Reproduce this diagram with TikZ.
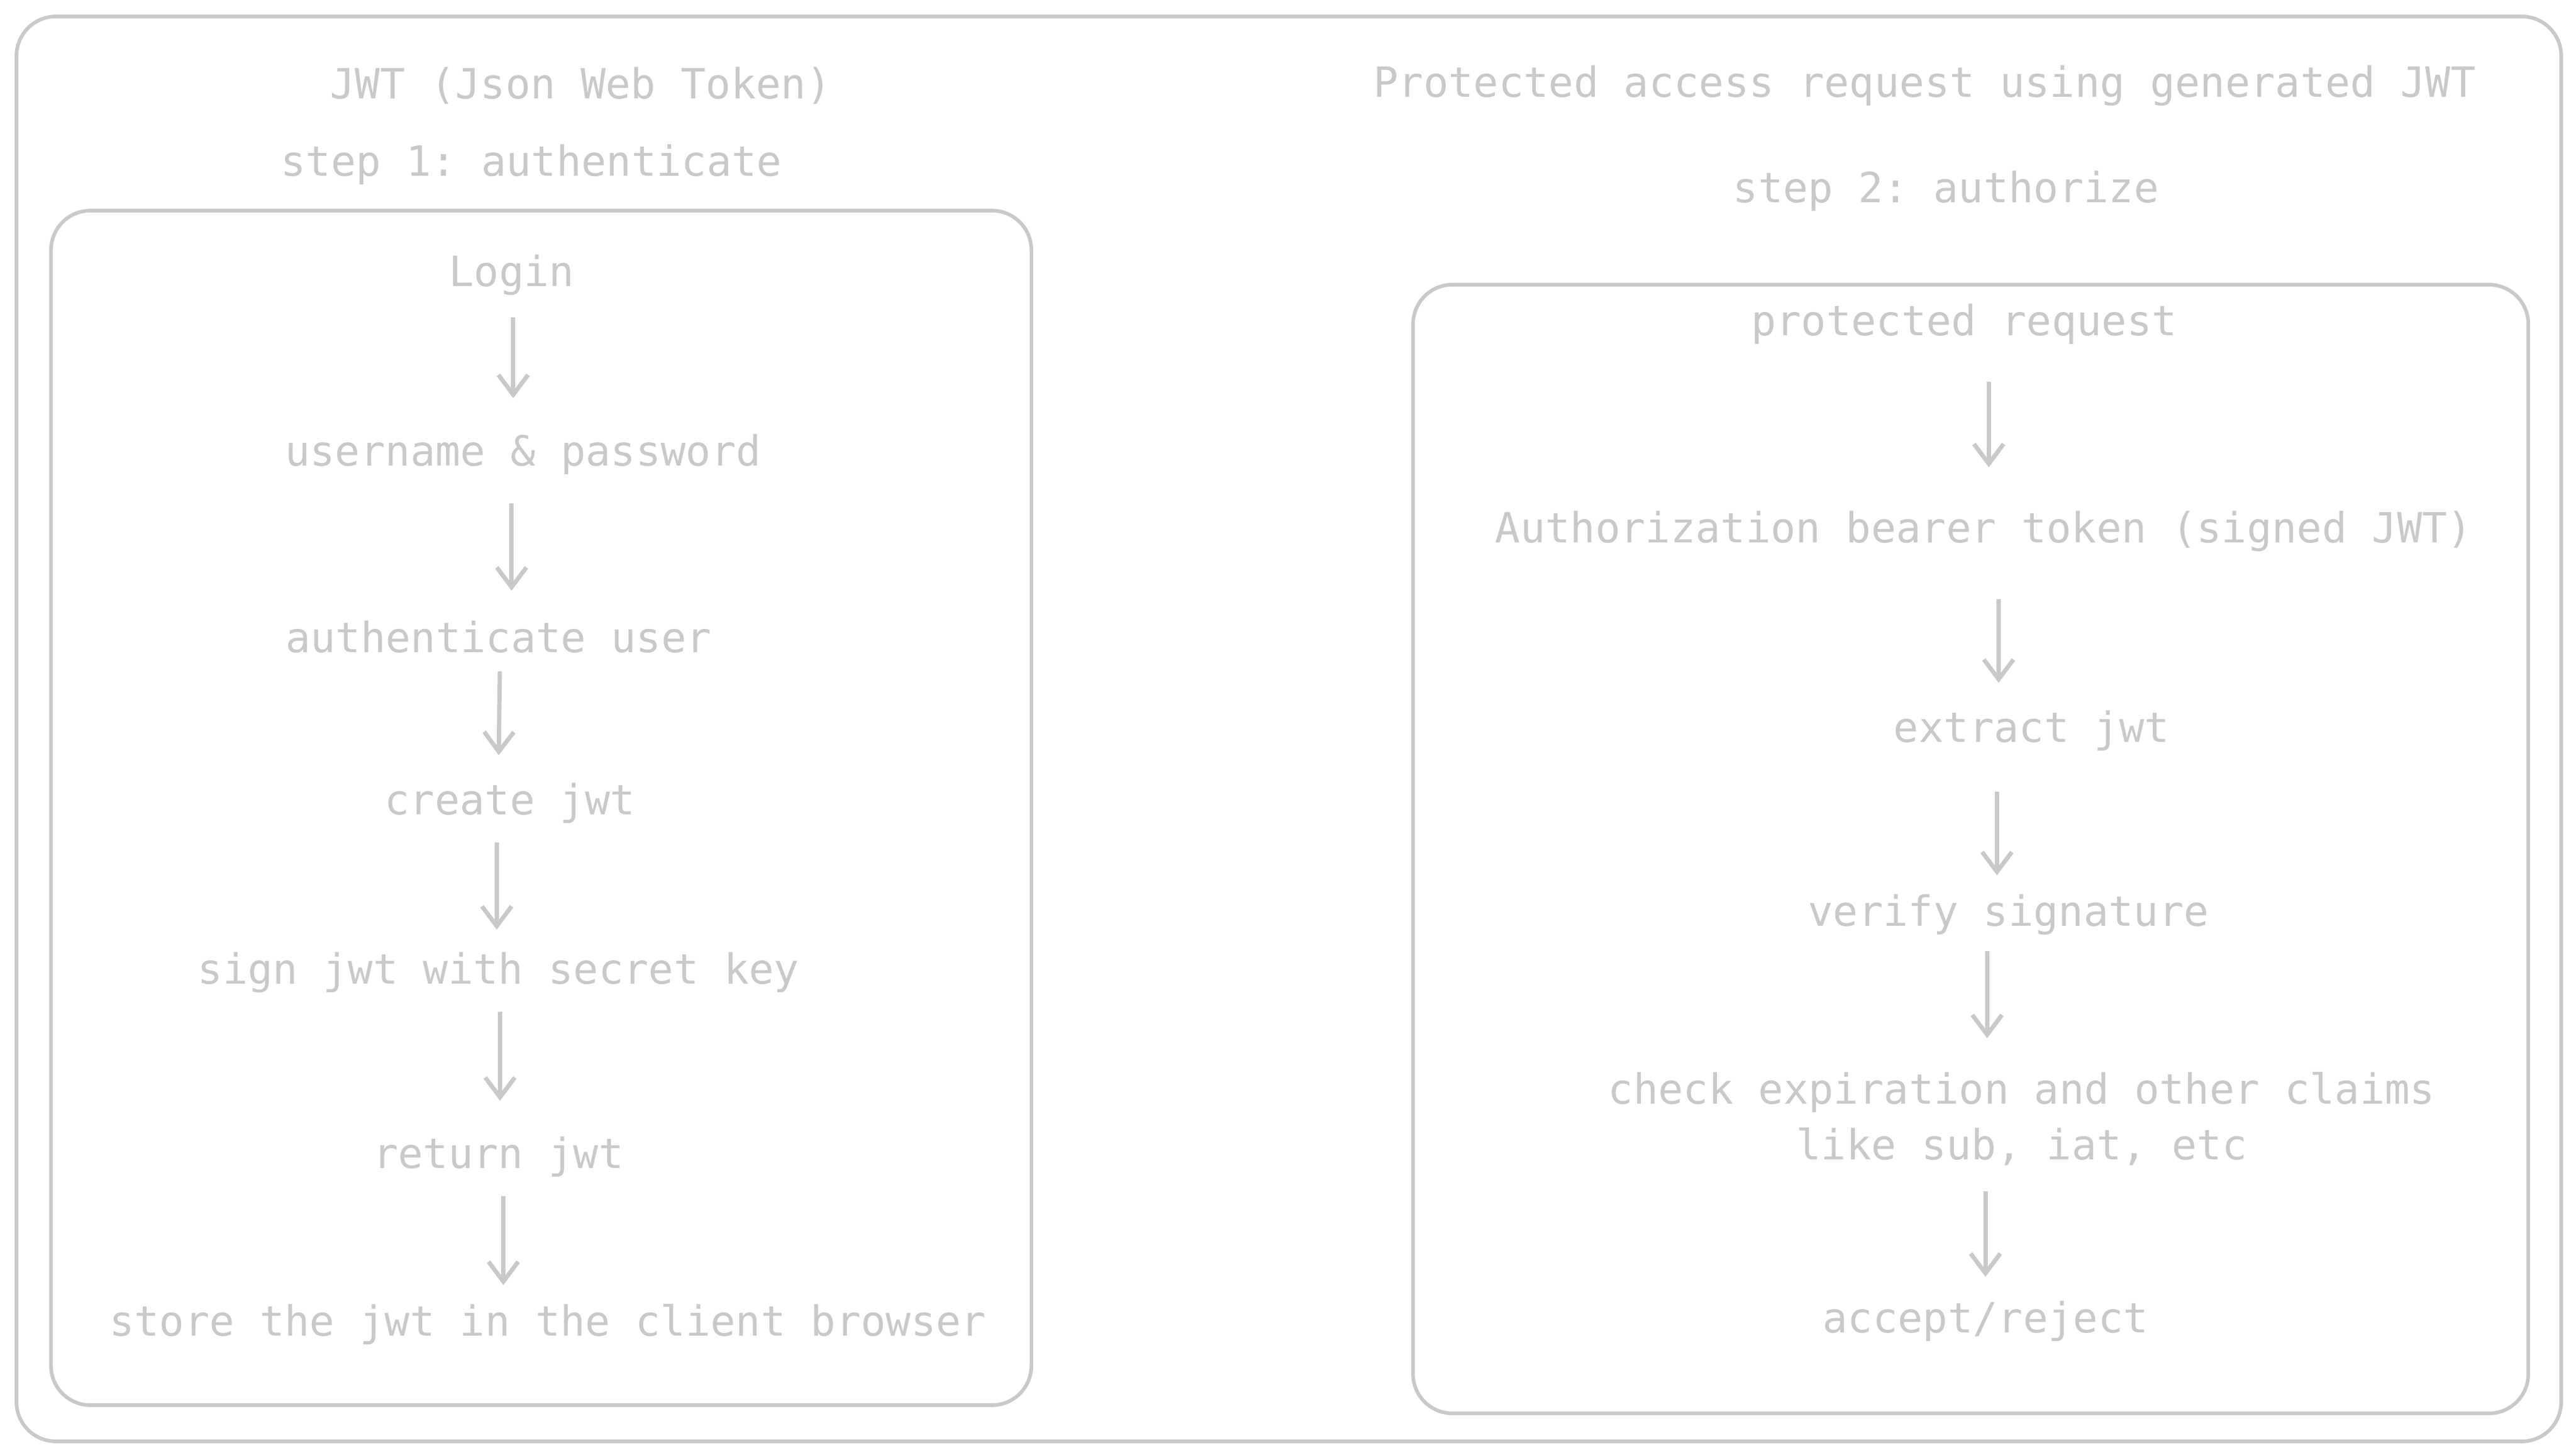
\documentclass[tikz,border=0pt]{standalone}
\usepackage{fontspec}
\setmonofont{DejaVu Sans Mono}
\usetikzlibrary{arrows.meta}
\definecolor{sk}{HTML}{C9C9C9}
\begin{document}
\begin{tikzpicture}[x=1pt,y=-1pt,
  box/.style={draw=sk,line width=2.2pt,rounded corners=24pt},
  t/.style={text=sk,font=\ttfamily\fontsize{25.3}{34}\selectfont,inner sep=0pt,align=center},
  arr/.style={draw=sk,line width=2.6pt,-{Straight Barb[length=12pt,width=18pt]},shorten <=13pt,shorten >=14pt}]
\useasboundingbox (0,0) rectangle (1566,883);
\draw[box] (10,10) rectangle (1557,876);
\draw[box] (31,128) rectangle (627,854);
\draw[box] (859,173) rectangle (1537,859);
\node[t] (h1) at (353,52) {JWT (Json Web Token)};
\node[t] (s1) at (323,100) {step 1: authenticate};
\node[t] (h2) at (1170,52) {Protected access request using generated JWT};
\node[t] (s2) at (1183,116) {step 2: authorize};
\node[t] (a1) at (311,167) {Login};
\node[t] (a2) at (318,276) {username \& password};
\node[t] (a3) at (303,387) {authenticate user};
\node[t] (a4) at (310,488) {create jwt};
\node[t] (a5) at (303,591) {sign jwt with secret key};
\node[t] (a6) at (303,703) {return jwt};
\node[t] (a7) at (333,805) {store the jwt in the client browser};
\node[t] (b1) at (1194,197) {protected request};
\node[t] (b2) at (1206,323) {Authorization bearer token (signed JWT)};
\node[t] (b3) at (1235,444) {extract jwt};
\node[t] (b4) at (1221,556) {verify signature};
\node[t] (b5) at (1229,680) {check expiration and other claims\\like sub, iat, etc};
\node[t] (b6) at (1207,803) {accept/reject};
\coordinate (p1) at (312,180); \coordinate (q1) at (312,256);
\coordinate (p2) at (311,293); \coordinate (q2) at (311,373);
\coordinate (p3) at (304,395); \coordinate (q3) at (303,473);
\coordinate (p4) at (302,499); \coordinate (q4) at (302,579);
\coordinate (p5) at (304,602); \coordinate (q5) at (304,683);
\coordinate (p6) at (306,714); \coordinate (q6) at (306,795);
\coordinate (r1) at (1209,219); \coordinate (u1) at (1209,298);
\coordinate (r2) at (1215,351); \coordinate (u2) at (1215,429);
\coordinate (r3) at (1214,468); \coordinate (u3) at (1214,546);
\coordinate (r4) at (1208,565); \coordinate (u4) at (1208,645);
\coordinate (r5) at (1207,711); \coordinate (u5) at (1207,790);
\foreach \i in {1,...,6}{\draw[arr] (p\i) -- (q\i);}
\foreach \i in {1,...,5}{\draw[arr] (r\i) -- (u\i);}
\end{tikzpicture}
\end{document}
